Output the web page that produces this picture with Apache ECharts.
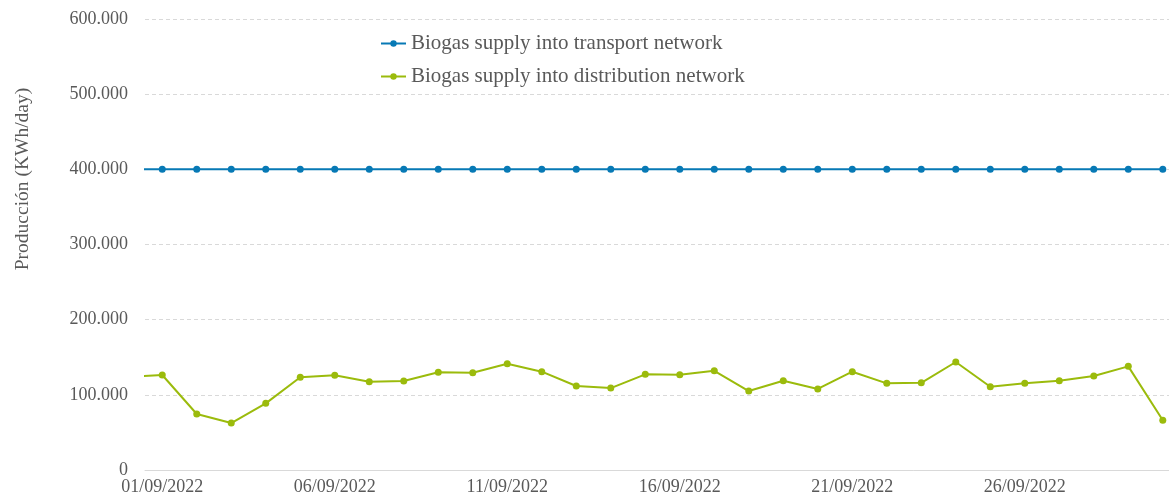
<!DOCTYPE html>
<html><head><meta charset="utf-8">
<script src="https://cdn.jsdelivr.net/npm/echarts@6/dist/echarts.min.js"></script>
<style>html,body{margin:0;padding:0;background:#fff}#c{width:1169px;height:503px}</style>
</head><body><div id="c"></div>
<script>
// day index 0 = 31/08/2022 (off-axis; only its clipped segment is visible), 1..30 = 01/09..30/09
const dates = ['31/08/2022','01/09/2022','02/09/2022','03/09/2022','04/09/2022','05/09/2022','06/09/2022','07/09/2022','08/09/2022','09/09/2022','10/09/2022','11/09/2022','12/09/2022','13/09/2022','14/09/2022','15/09/2022','16/09/2022','17/09/2022','18/09/2022','19/09/2022','20/09/2022','21/09/2022','22/09/2022','23/09/2022','24/09/2022','25/09/2022','26/09/2022','27/09/2022','28/09/2022','29/09/2022','30/09/2022'];
const xTickDays = [1, 6, 11, 16, 21, 26];
const transport = [400000,400000,400000,400000,400000,400000,400000,400000,400000,400000,400000,400000,400000,400000,400000,400000,400000,400000,400000,400000,400000,400000,400000,400000,400000,400000,400000,400000,400000,400000,400000];
const distribution = [124000,126400,74500,62500,88700,123300,126000,117500,118400,130000,129500,141400,130800,111700,109000,127300,126800,132000,105000,118800,107800,130800,115300,116000,143700,110800,115300,118800,125000,137900,66100];
const seriesNames = ['Biogas supply into transport network','Biogas supply into distribution network'];
const yTitle = 'Producción (KWh/day)';

const font = 'Liberation Serif';
const pairs = arr => arr.map((v, i) => [i, v]);
const fmt = v => v === 0 ? '0' : String(v).replace(/\B(?=(\d{3})+(?!\d))/g, '.');

const chart = echarts.init(document.getElementById('c'), null, {renderer: 'canvas'});
chart.setOption({
  animation: false,
  backgroundColor: '#fff',
  textStyle: {fontFamily: font},
  grid: {left: 145, top: 19, right: 0, bottom: 33, containLabel: false},
  legend: {
    orient: 'vertical', left: 375, top: 28, itemGap: 12, itemWidth: 25, itemHeight: 8,
    textStyle: {fontFamily: font, fontSize: 21, color: '#595959'},
    data: seriesNames
  },
  graphic: [{
    type: 'text', x: 13, y: 179, rotation: Math.PI / 2,
    style: {text: yTitle, font: '19.5px "Liberation Serif"', fill: '#595959', textAlign: 'center', textVerticalAlign: 'top'}
  }],
  xAxis: {
    type: 'value', min: 0.5, max: 30.18,
    axisLine: {show: true, onZero: false, lineStyle: {color: '#d9d9d9', width: 1}},
    axisTick: {show: false},
    axisLabel: {
      customValues: xTickDays, color: '#595959', fontFamily: font, fontSize: 18, margin: 8,
      showMinLabel: true, showMaxLabel: true, hideOverlap: false,
      formatter: v => dates[Math.round(v)]
    },
    splitLine: {show: false}
  },
  yAxis: {
    type: 'value', min: 0, max: 600000, interval: 100000,
    axisLine: {show: false}, axisTick: {show: false},
    axisLabel: {color: '#595959', fontFamily: font, fontSize: 18, margin: 17, formatter: fmt},
    splitLine: {lineStyle: {color: '#d9d9d9', type: [4, 3], width: 1}}
  },
  series: [{
    name: seriesNames[0], type: 'line', data: pairs(transport), clip: true,
    symbol: 'circle', symbolSize: 7, showSymbol: true,
    itemStyle: {color: '#0779b5'}, lineStyle: {color: '#0779b5', width: 2}
  }, {
    name: seriesNames[1], type: 'line', data: pairs(distribution), clip: true,
    symbol: 'circle', symbolSize: 7, showSymbol: true,
    itemStyle: {color: '#9bbb0c'}, lineStyle: {color: '#9bbb0c', width: 2}
  }]
});
</script></body></html>
